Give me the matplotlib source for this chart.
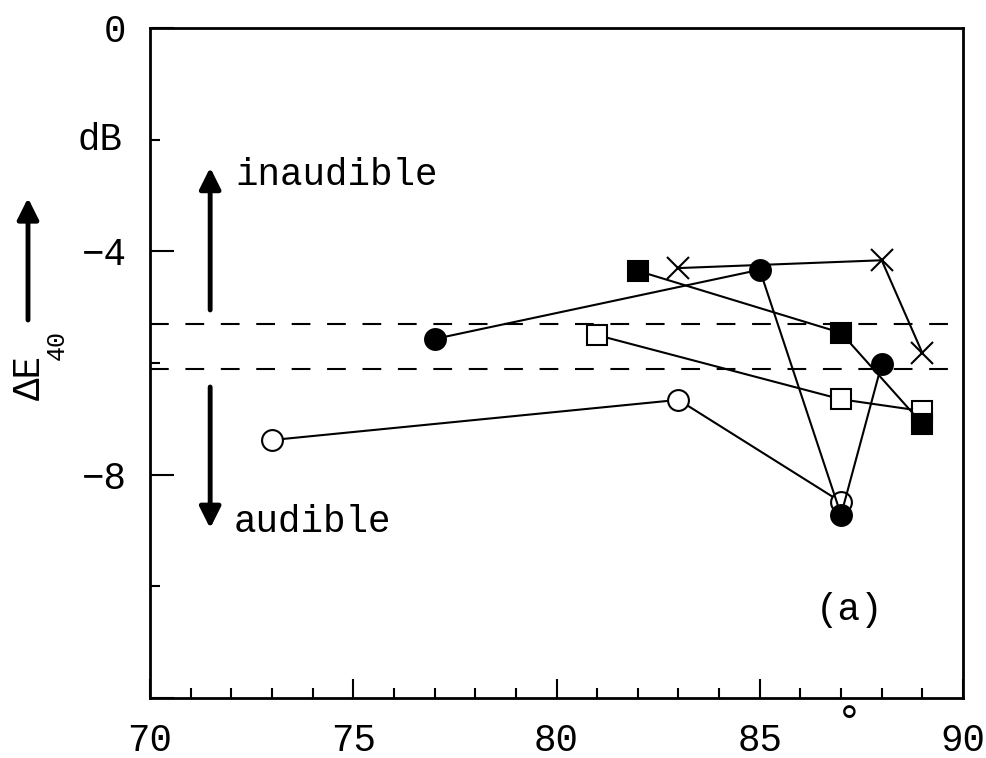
import matplotlib
matplotlib.use("Agg")
import matplotlib.pyplot as plt
from matplotlib.ticker import MultipleLocator

plt.rcParams['font.family'] = ['Liberation Mono', 'DejaVu Sans Mono']

# angle in degrees vs. Delta E40 (dB)
open_circ_x = [73, 83, 87]
open_circ_y = [-7.38, -6.66, -8.49]

open_sq_x = [81, 87, 89]
open_sq_y = [-5.50, -6.65, -6.86]

cross_x = [83, 88, 89]
cross_y = [-4.30, -4.16, -5.82]

fill_circ_x = [77, 85, 87, 88]
fill_circ_y = [-5.57, -4.33, -8.72, -6.02]

fill_sq_x = [82, 87, 89]
fill_sq_y = [-4.35, -5.46, -7.09]

limits = [-5.3, -6.1]   # dashed threshold lines

fig = plt.figure(figsize=(9.86, 7.58), dpi=100)
ax = fig.add_axes([150 / 986, 60 / 758, 813 / 986, 670 / 758])

for yl in limits:
    ax.axhline(yl, color='black', lw=1.5, dashes=(9, 8))

kw = dict(color='black', lw=1.5, mew=1.5, mec='black')
ax.plot(open_circ_x, open_circ_y, marker='o', ms=15, mfc='white', **kw)
ax.plot(open_sq_x, open_sq_y, marker='s', ms=15, mfc='white', **kw)
ax.plot(cross_x, cross_y, marker='x', ms=16, **kw)
ax.plot(fill_circ_x, fill_circ_y, marker='o', ms=15, mfc='black', **kw)
ax.plot(fill_sq_x, fill_sq_y, marker='s', ms=15, mfc='black', **kw)

ax.set_xlim(70, 90)
ax.set_ylim(-12, 0)

ax.xaxis.set_minor_locator(MultipleLocator(1))
ax.set_xticks([70, 75, 80, 85, 90])
ax.set_xticklabels(['70', '75', '80', '85', '90'])
ax.set_yticks([0, -4, -8, -12])
ax.set_yticklabels(['0', '\u22124', '\u22128', ''])
ax.yaxis.set_minor_locator(MultipleLocator(2))
ax.tick_params(which='major', direction='in', length=14, width=1.5,
               labelsize=27, pad=18)
ax.tick_params(which='minor', direction='in', length=7, width=1.5)
ax.tick_params(axis='y', which='major', length=17, pad=17)
for s in ax.spines.values():
    s.set_linewidth(2)

# "dB" at the -2 tick, degree sign under the x axis
ax.text(-0.034, -2.0, 'dB', transform=ax.get_yaxis_transform(),
        ha='right', va='center', fontsize=27)
ax.text(87.2, -12.45, '\u00b0', ha='center', va='center', fontsize=32,
        clip_on=False)

# audible / inaudible arrows
arr = dict(arrowstyle='-|>', lw=3.5, color='black', mutation_scale=32,
           shrinkA=0, shrinkB=0)
ax.annotate('', xy=(71.48, -2.5), xytext=(71.48, -5.05), arrowprops=arr)
ax.annotate('', xy=(71.48, -8.96), xytext=(71.48, -6.43), arrowprops=arr)
ax.text(72.1, -2.63, 'inaudible', ha='left', va='center', fontsize=27)
ax.text(72.05, -8.85, 'audible', ha='left', va='center', fontsize=27)
ax.text(87.2, -10.42, '(a)', ha='center', va='center', fontsize=27)

# y label: Delta E_40 with an upward arrow
fig.text(30 / 986, 1 - 378 / 758, '\u0394E', rotation=90, ha='center',
         va='center', fontsize=27)
fig.text(57 / 986, 1 - 345 / 758, '40', rotation=90, ha='center',
         va='center', fontsize=18)
fig.patches.append(matplotlib.patches.FancyArrowPatch(
    (28 / 986, 1 - 320 / 758), (28 / 986, 1 - 198 / 758),
    transform=fig.transFigure, **arr))

fig.savefig('out.png', dpi=100)
